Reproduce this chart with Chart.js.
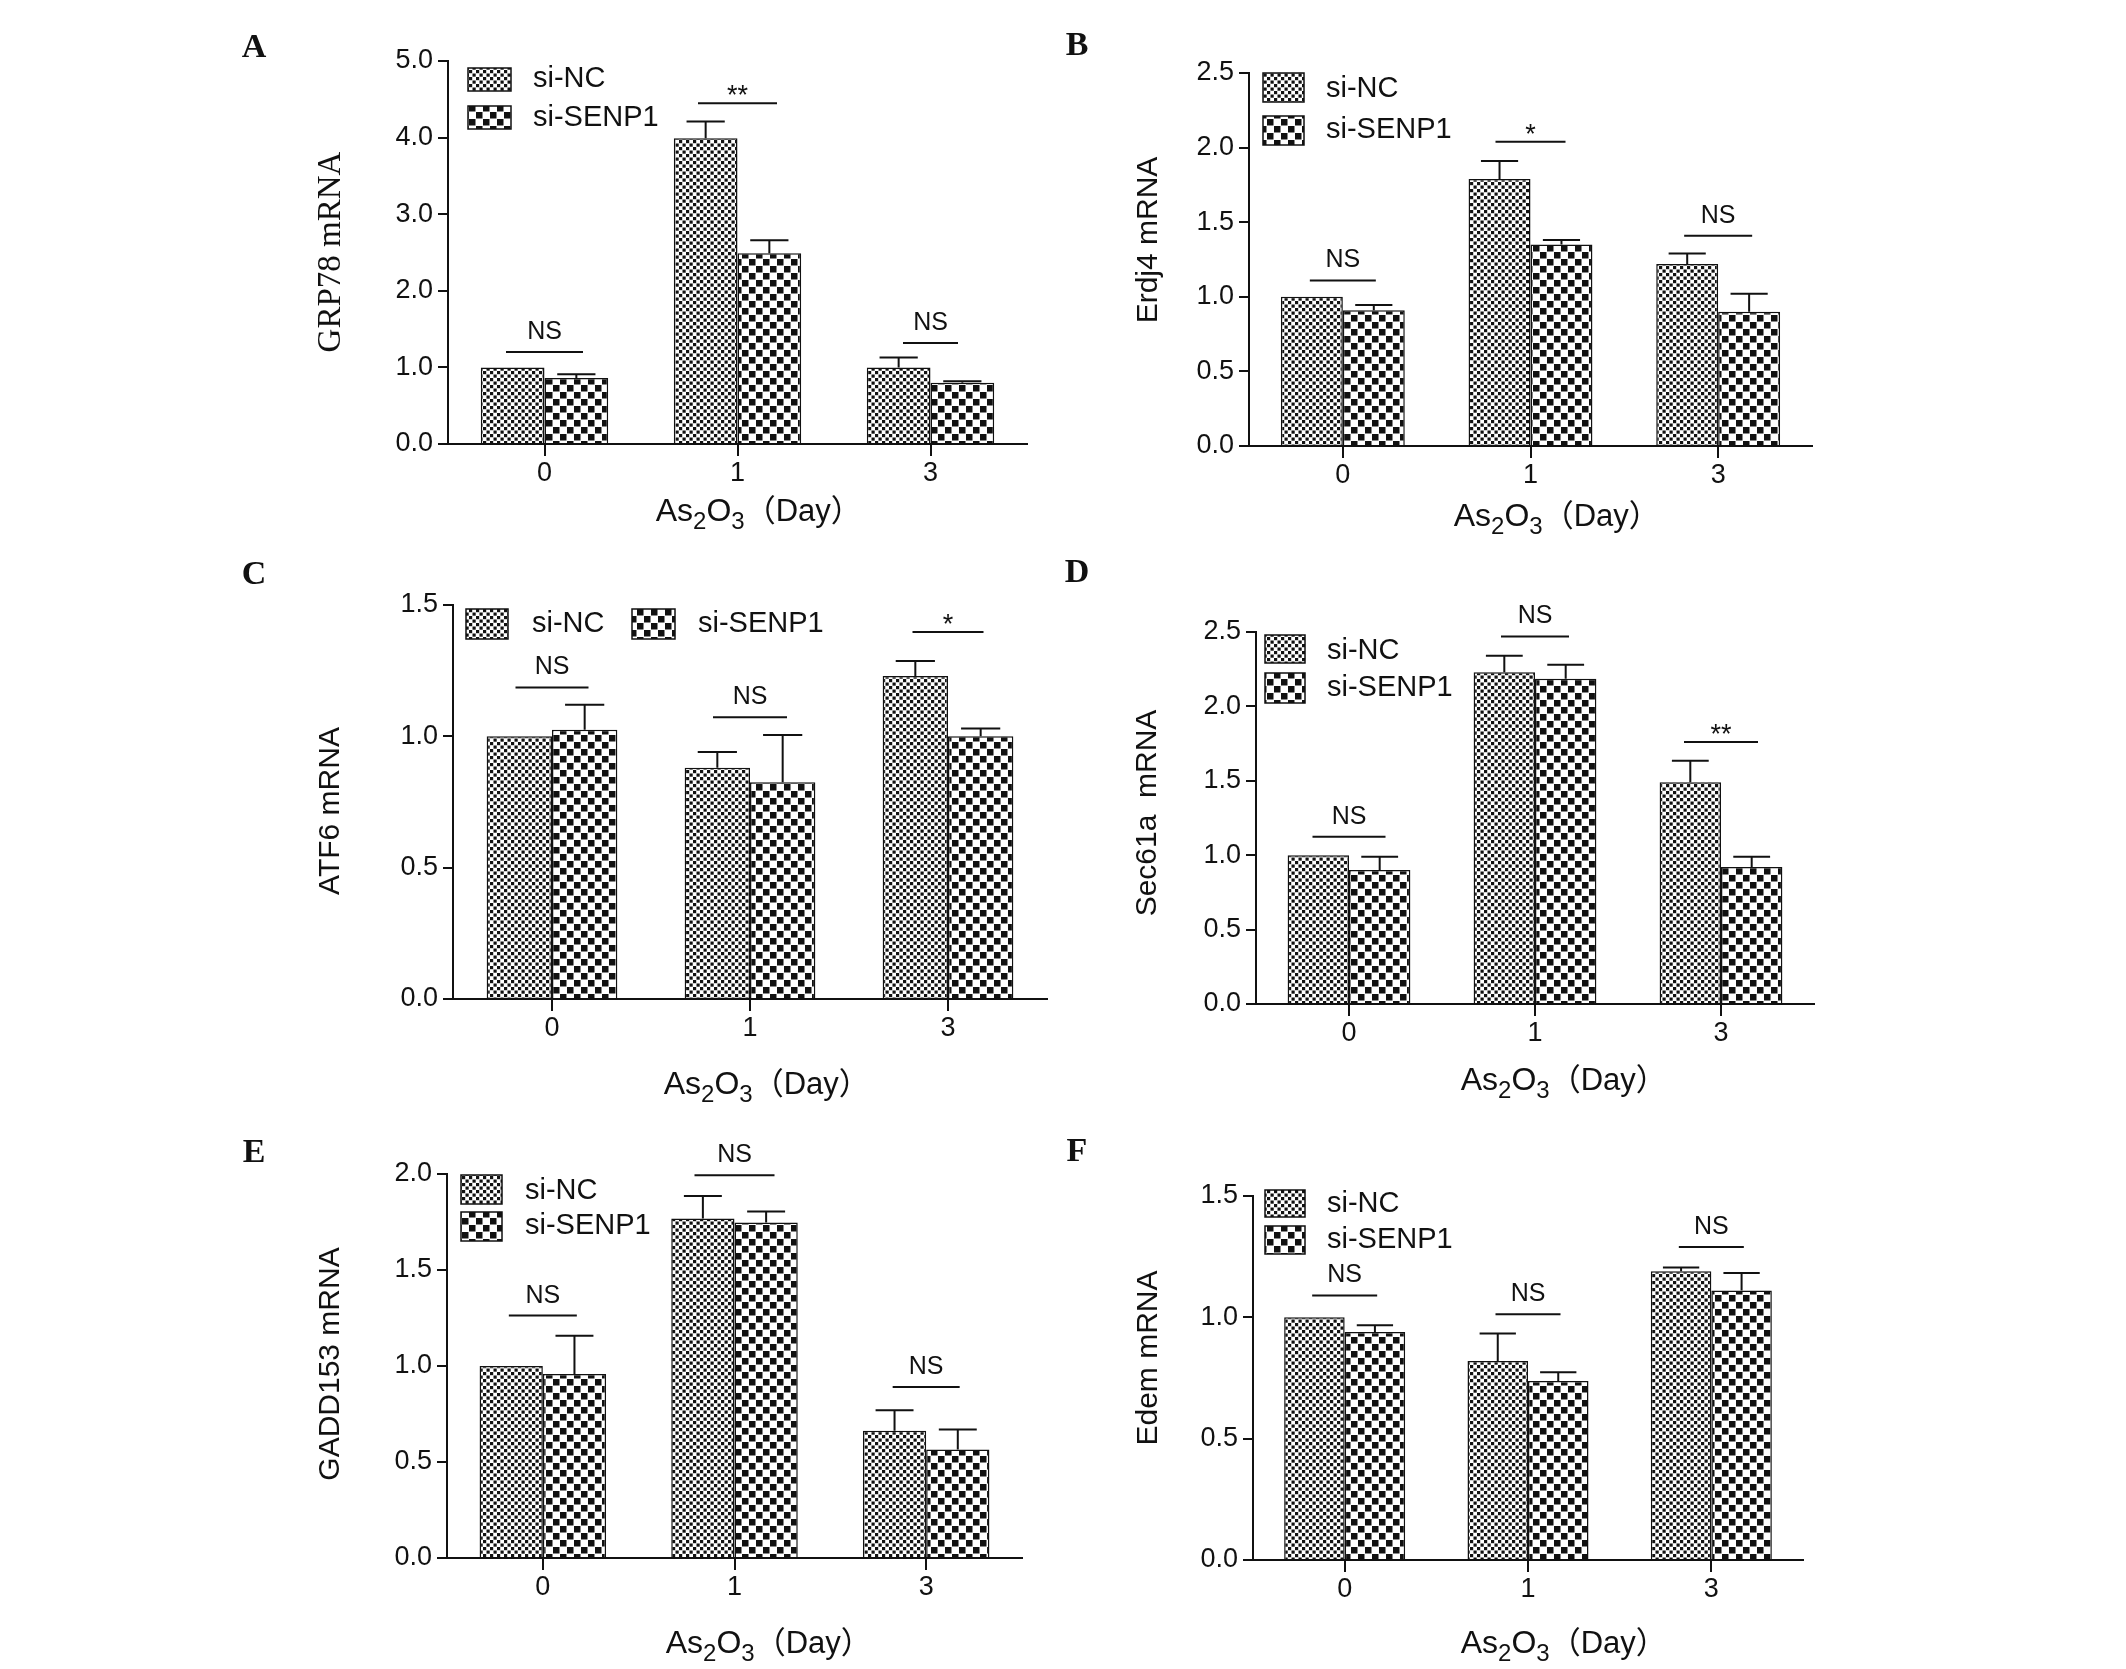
<!DOCTYPE html>
<html><head><meta charset="utf-8">
<script src="https://cdn.jsdelivr.net/npm/chart.js@4.4.1/dist/chart.umd.min.js"></script>
<style>
html,body{margin:0;padding:0;background:#fff;}
#wrap{position:relative;width:2126px;height:1669px;background:#fff;overflow:hidden;}
#wrap canvas{position:absolute;left:0;top:0;}
</style></head><body><div id="wrap"></div>
<script>
// ---------------- DATA ----------------
const categories = ['0', '1', '3'];
const seriesNames = ['si-NC', 'si-SENP1'];

const grp78_siNC      = [1.00, 3.99, 1.00];
const grp78_siNC_err  = [0, 0.22, 0.13];
const grp78_siSENP1   = [0.86, 2.49, 0.80];
const grp78_siSENP1_err = [0.05, 0.17, 0.02];
const grp78_ticks     = ['0.0', '1.0', '2.0', '3.0', '4.0', '5.0'];
const grp78_sigText   = ['NS', '**', 'NS'];
const grp78_sigY      = [1.20, 4.45, 1.32];

const erdj4_siNC      = [1.00, 1.79, 1.22];
const erdj4_siNC_err  = [0, 0.12, 0.07];
const erdj4_siSENP1   = [0.91, 1.35, 0.90];
const erdj4_siSENP1_err = [0.035, 0.03, 0.12];
const erdj4_ticks     = ['0.0', '0.5', '1.0', '1.5', '2.0', '2.5'];
const erdj4_sigText   = ['NS', '*', 'NS'];
const erdj4_sigY      = [1.11, 2.04, 1.41];

const atf6_siNC       = [1.00, 0.88, 1.23];
const atf6_siNC_err   = [0, 0.06, 0.057];
const atf6_siSENP1    = [1.025, 0.825, 1.00];
const atf6_siSENP1_err = [0.095, 0.18, 0.03];
const atf6_ticks      = ['0.0', '0.5', '1.0', '1.5'];
const atf6_sigText    = ['NS', 'NS', '*'];
const atf6_sigY       = [1.186, 1.073, 1.397];

const sec61_siNC      = [1.00, 2.23, 1.49];
const sec61_siNC_err  = [0, 0.11, 0.145];
const sec61_siSENP1   = [0.90, 2.186, 0.92];
const sec61_siSENP1_err = [0.09, 0.094, 0.07];
const sec61_ticks     = ['0.0', '0.5', '1.0', '1.5', '2.0', '2.5'];
const sec61_sigText   = ['NS', 'NS', '**'];
const sec61_sigY      = [1.124, 2.47, 1.76];

const gadd_siNC       = [1.00, 1.768, 0.663];
const gadd_siNC_err   = [0, 0.117, 0.107];
const gadd_siSENP1    = [0.958, 1.747, 0.565];
const gadd_siSENP1_err = [0.20, 0.058, 0.104];
const gadd_ticks      = ['0.0', '0.5', '1.0', '1.5', '2.0'];
const gadd_sigText    = ['NS', 'NS', 'NS'];
const gadd_sigY       = [1.263, 1.994, 0.891];

const edem_siNC       = [1.00, 0.82, 1.19];
const edem_siNC_err   = [0, 0.113, 0.015];
const edem_siSENP1    = [0.94, 0.738, 1.111];
const edem_siSENP1_err = [0.027, 0.036, 0.072];
const edem_ticks      = ['0.0', '0.5', '1.0', '1.5'];
const edem_sigText    = ['NS', 'NS', 'NS'];
const edem_sigY       = [1.09, 1.013, 1.29];

const panelLetters = ['A', 'B', 'C', 'D', 'E', 'F'];
const yTitles = ['GRP78 mRNA', 'Erdj4 mRNA', 'ATF6 mRNA', 'Sec61a  mRNA', 'GADD153 mRNA', 'Edem mRNA'];

// ---------------- LAYOUT (positions / styles) ----------------
const W = 2126, H = 1669;
const layouts = [
  {x0:448, x1:1027, yTop:61, yBot:444, letter:[254,48], yTitle:[331,252], serif:true, xTitle:[751,509],
   boxes:[[468,68,43,23],[468,106,43,23]], texts:[[533,79],[533,118]], sigW:[77,79,55]},
  {x0:1249, x1:1812, yTop:73, yBot:446, letter:[1077,46], yTitle:[1149,240], xTitle:[1549,514],
   boxes:[[1263,73,41,29],[1263,116,41,29]], texts:[[1326,89],[1326,130]], sigW:[66,70,68]},
  {x0:453, x1:1047, yTop:605, yBot:999, letter:[254,575], yTitle:[331,811], xTitle:[759,1082],
   boxes:[[466,609,42,30],[632,609,43,30]], texts:[[532,624],[698,624]], sigW:[73,74,71]},
  {x0:1256, x1:1814, yTop:632, yBot:1004, letter:[1077,573], yTitle:[1148,813], xTitle:[1556,1078],
   boxes:[[1265,635,40,28],[1265,673,40,30]], texts:[[1327,651],[1327,688]], sigW:[73,68,74]},
  {x0:447, x1:1022, yTop:1174, yBot:1558, letter:[254,1153], yTitle:[331,1364], xTitle:[761,1641],
   boxes:[[461,1175,41,29],[461,1212,41,29]], texts:[[525,1191],[525,1226]], sigW:[68,80,67]},
  {x0:1253, x1:1803, yTop:1196, yBot:1560, letter:[1077,1152], yTitle:[1149,1358], xTitle:[1556,1641],
   boxes:[[1265,1190,40,27],[1265,1226,40,28]], texts:[[1327,1204],[1327,1240]], sigW:[65,65,65]}
];

const panelData = [
  [grp78_siNC, grp78_siNC_err, grp78_siSENP1, grp78_siSENP1_err, grp78_ticks, grp78_sigText, grp78_sigY],
  [erdj4_siNC, erdj4_siNC_err, erdj4_siSENP1, erdj4_siSENP1_err, erdj4_ticks, erdj4_sigText, erdj4_sigY],
  [atf6_siNC, atf6_siNC_err, atf6_siSENP1, atf6_siSENP1_err, atf6_ticks, atf6_sigText, atf6_sigY],
  [sec61_siNC, sec61_siNC_err, sec61_siSENP1, sec61_siSENP1_err, sec61_ticks, sec61_sigText, sec61_sigY],
  [gadd_siNC, gadd_siNC_err, gadd_siSENP1, gadd_siSENP1_err, gadd_ticks, gadd_sigText, gadd_sigY],
  [edem_siNC, edem_siNC_err, edem_siSENP1, edem_siSENP1_err, edem_ticks, edem_sigText, edem_sigY]
];

// ---------------- FONTS ----------------
const SANS = "'Liberation Sans', Arial, 'Noto Sans CJK SC', sans-serif";
const CJK = "'Noto Sans CJK SC', 'Noto Sans CJK JP', sans-serif";
const SERIF = "'Liberation Serif', 'Times New Roman', serif";
const INK = '#111';
const TICK_SIZE = 27, LEGEND_SIZE = 29, NS_SIZE = 25, STAR_SIZE = 27, YT_SIZE = 30, XT_SIZE = 32;

// ---------------- PATTERNS ----------------
function patternFine(ctx){
  const c = document.createElement('canvas'); c.width = 7; c.height = 7;
  const g = c.getContext('2d');
  g.fillStyle = '#fff'; g.fillRect(0,0,7,7);
  g.fillStyle = '#111'; g.fillRect(0,0,3.2,3.2); g.fillRect(3.5,3.5,3.2,3.2);
  return ctx.createPattern(c, 'repeat');
}
function patternCoarse(ctx){
  const c = document.createElement('canvas'); c.width = 14; c.height = 14;
  const g = c.getContext('2d');
  g.fillStyle = '#fff'; g.fillRect(0,0,14,14);
  g.fillStyle = '#111'; g.fillRect(0,0,6.5,6.5); g.fillRect(7,7,6.5,6.5);
  return ctx.createPattern(c, 'repeat');
}

// ---------------- TEXT HELPERS ----------------
function drawXTitle(ctx, cx, cy, size){
  // [text, subscript?, size factor, font family]
  const parts = [['As',0,1,SANS],['2',1,0.74,SANS],['O',0,1,SANS],['3',1,0.74,SANS],
                 ['\uFF08',0,0.97,CJK],['Day',0,0.97,SANS],['\uFF09',0,0.97,CJK]];
  let total = 0;
  parts.forEach(p => { ctx.font = Math.round(size*p[2]) + 'px ' + p[3]; p.w = ctx.measureText(p[0]).width; total += p.w; });
  const visible = total - parts[parts.length-1].w * 0.5;
  let x = cx - visible/2;
  const base = cy + size*0.36;
  ctx.fillStyle = INK; ctx.textBaseline = 'alphabetic'; ctx.textAlign = 'left';
  parts.forEach(p => {
    ctx.font = Math.round(size*p[2]) + 'px ' + p[3];
    ctx.fillText(p[0], x, base + (p[1] ? size*0.27 : 0));
    x += p.w;
  });
}

// ---------------- BUILD CHARTS ----------------
const wrap = document.getElementById('wrap');

panelData.forEach((pd, k) => {
  const [nc, ncErr, se, seErr, tickLabels, sigText, sigY] = pd;
  const L = layouts[k];
  const canvas = document.createElement('canvas');
  canvas.width = W; canvas.height = H;
  wrap.appendChild(canvas);
  const ctx = canvas.getContext('2d');
  const pFine = patternFine(ctx), pCoarse = patternCoarse(ctx);
  const tickVals = tickLabels.map(Number);

  const overlay = {
    id: 'overlay' + k,
    afterDatasetsDraw(chart){
      const c = chart.ctx, ys = chart.scales.y;
      c.save();
      c.strokeStyle = INK; c.lineWidth = 2;
      chart.data.datasets.forEach((ds, di) => {
        const meta = chart.getDatasetMeta(di);
        meta.data.forEach((bar, i) => {
          const e = ds.errors[i];
          if (!e) return;
          const yTop = ys.getPixelForValue(ds.data[i] + e);
          const half = bar.width * 0.3;
          c.beginPath();
          c.moveTo(bar.x, bar.y); c.lineTo(bar.x, yTop);
          c.moveTo(bar.x - half, yTop); c.lineTo(bar.x + half, yTop);
          c.stroke();
        });
      });
      // significance marks
      const xs = chart.scales.x;
      sigText.forEach((t, i) => {
        const cx = xs.getPixelForValue(i);
        const y = ys.getPixelForValue(sigY[i]);
        const w = L.sigW[i];
        c.beginPath(); c.moveTo(cx - w/2, y); c.lineTo(cx + w/2, y); c.stroke();
        c.fillStyle = INK; c.textBaseline = 'alphabetic'; c.textAlign = 'center';
        if (t === 'NS') {
          c.font = NS_SIZE + 'px ' + SANS;
          c.fillText(t, cx, y - 13);
        } else {
          c.font = STAR_SIZE + 'px ' + SANS;
          c.fillText(t, cx, y + 1);
        }
      });
      c.restore();
    },
    afterDraw(chart){
      const c = chart.ctx;
      c.save();
      c.fillStyle = INK;
      // panel letter
      c.font = 'bold 34px ' + SERIF;
      c.textAlign = 'center'; c.textBaseline = 'middle';
      c.fillText(panelLetters[k], L.letter[0], L.letter[1]);
      // y title
      c.save();
      c.translate(L.yTitle[0], L.yTitle[1]);
      c.rotate(-Math.PI/2);
      c.font = L.serif ? ('33px ' + SERIF) : (YT_SIZE + 'px ' + SANS);
      c.textAlign = 'center'; c.textBaseline = 'middle';
      c.fillText(yTitles[k], 0, 0);
      c.restore();
      // x title
      drawXTitle(c, L.xTitle[0], L.xTitle[1], XT_SIZE);
      // legend
      const pats = [pFine, pCoarse];
      L.boxes.forEach((b, i) => {
        c.fillStyle = pats[i];
        c.fillRect(b[0], b[1], b[2], b[3]);
        c.strokeStyle = INK; c.lineWidth = 1.5;
        c.strokeRect(b[0], b[1], b[2], b[3]);
        c.fillStyle = INK;
        c.font = LEGEND_SIZE + 'px ' + SANS; c.textBaseline = 'middle'; c.textAlign = 'left';
        c.fillText(seriesNames[i], L.texts[i][0], L.texts[i][1]);
      });
      c.restore();
    }
  };

  new Chart(ctx, {
    type: 'bar',
    data: {
      labels: categories,
      datasets: [
        {label: seriesNames[0], data: nc, errors: ncErr, backgroundColor: pFine, borderColor: INK, borderWidth: 1.5,
         barPercentage: 1, categoryPercentage: 0.66},
        {label: seriesNames[1], data: se, errors: seErr, backgroundColor: pCoarse, borderColor: INK, borderWidth: 1.5,
         barPercentage: 1, categoryPercentage: 0.66}
      ]
    },
    options: {
      responsive: false, animation: false, devicePixelRatio: 1,
      layout: {padding: {left: 0, top: L.yTop, right: W - L.x1, bottom: 0}},
      plugins: {legend: {display: false}, tooltip: {enabled: false}, title: {display: false}},
      scales: {
        x: {
          type: 'category', offset: true,
          grid: {display: true, offset: false, drawOnChartArea: false, drawTicks: true, tickLength: 12, lineWidth: 2, color: INK},
          border: {display: true, color: INK, width: 2},
          ticks: {color: INK, font: {family: SANS, size: TICK_SIZE}, padding: 1, maxRotation: 0, autoSkip: false},
          afterFit: s => { s.height = H - L.yBot; }
        },
        y: {
          min: tickVals[0], max: tickVals[tickVals.length - 1],
          afterBuildTicks: s => { s.ticks = tickVals.map(v => ({value: v})); },
          grid: {display: true, drawOnChartArea: false, drawTicks: true, tickLength: 10, lineWidth: 2, color: INK},
          border: {display: true, color: INK, width: 2},
          ticks: {color: INK, font: {family: SANS, size: TICK_SIZE}, padding: 5, autoSkip: false,
                  callback: (v, i) => tickLabels[i]},
          afterFit: s => { s.width = L.x0; }
        }
      }
    },
    plugins: [overlay]
  });
});
</script>
</body></html>
